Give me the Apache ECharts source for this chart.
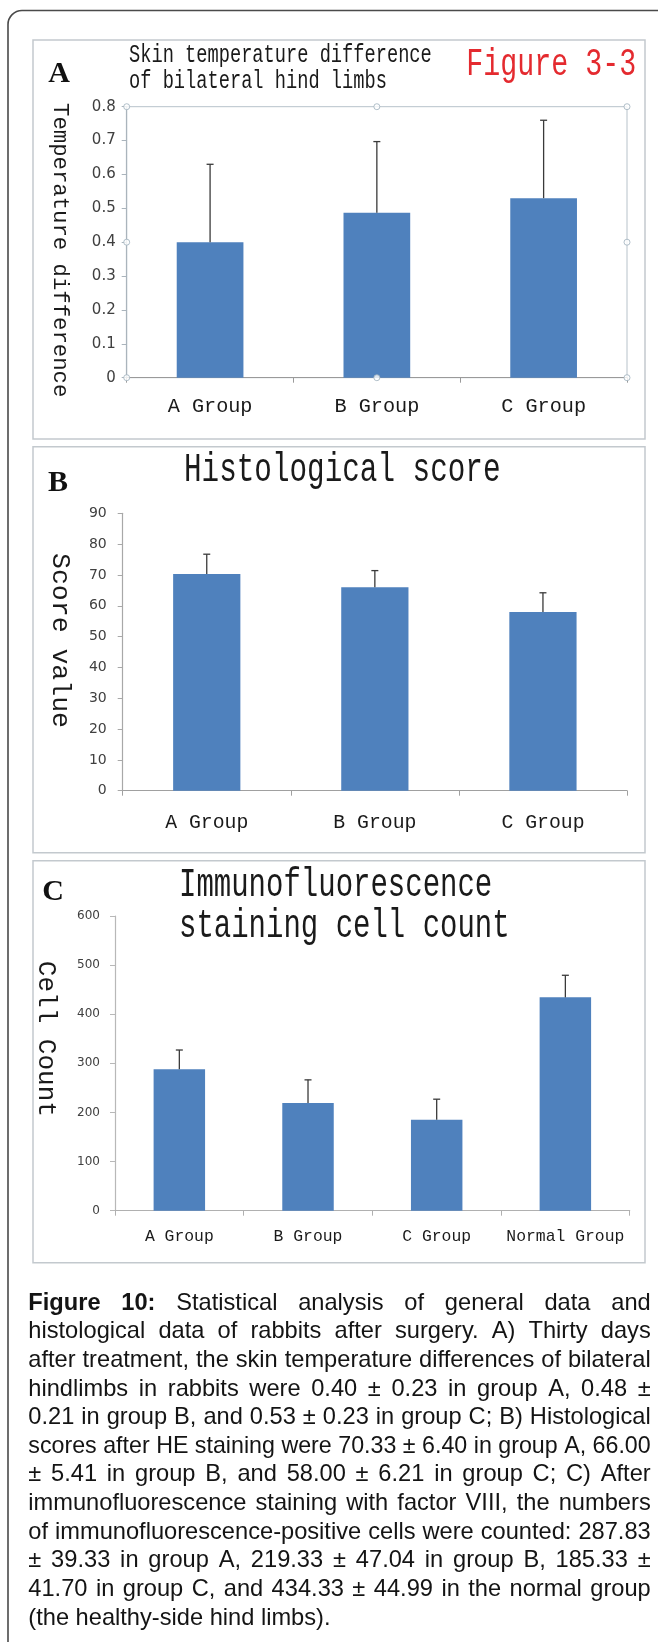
<!DOCTYPE html>
<html><head><meta charset="utf-8">
<script src="https://cdn.jsdelivr.net/npm/echarts@6/dist/echarts.min.js"></script>
<style>html,body{margin:0;padding:0;background:#fff}#c{width:658px;height:1642px}</style>
</head><body><div id="c"></div>
<script>
// ---------- data ----------
const groupsABC = ['A Group', 'B Group', 'C Group'];
const groupsCell = ['A Group', 'B Group', 'C Group', 'Normal Group'];
const tempMean = [0.40, 0.487, 0.53];
const tempSD = [0.23, 0.21, 0.23];
const scoreMean = [70.33, 66.00, 58.00];
const scoreSD = [6.40, 5.41, 6.21];
const cellMean = [287.83, 219.33, 185.33, 434.33];
const cellSD = [39.33, 47.04, 41.70, 44.99];
const tempTicks = [0, 0.1, 0.2, 0.3, 0.4, 0.5, 0.6, 0.7, 0.8];
const scoreTicks = [0, 10, 20, 30, 40, 50, 60, 70, 80, 90];
const cellTicks = [0, 100, 200, 300, 400, 500, 600];
const titleA = ['Skin temperature difference', 'of bilateral hind limbs'];
const titleB = ['Histological score'];
const titleC = ['Immunofluorescence', 'staining cell count'];
const figTag = 'Figure 3-3';
const yNameA = 'Temperature difference';
const yNameB = 'Score value';
const yNameC = 'Cell Count';
const panelLetters = ['A', 'B', 'C'];
const captionLines = [
  'Figure 10: Statistical analysis of general data and',
  'histological data of rabbits after surgery. A) Thirty days',
  'after treatment, the skin temperature differences of bilateral',
  'hindlimbs in rabbits were 0.40 ± 0.23 in group A, 0.48 ±',
  '0.21 in group B, and 0.53 ± 0.23 in group C; B) Histological',
  'scores after HE staining were 70.33 ± 6.40 in group A, 66.00',
  '± 5.41 in group B, and 58.00 ± 6.21 in group C; C) After',
  'immunofluorescence staining with factor VIII, the numbers',
  'of immunofluorescence-positive cells were counted: 287.83',
  '± 39.33 in group A, 219.33 ± 47.04 in group B, 185.33 ±',
  '41.70 in group C, and 434.33 ± 44.99 in the normal group',
  '(the healthy-side hind limbs).'
];
const captionBoldWords = 2; // "Figure 10:"

// ---------- styles / layout ----------
const MONO = '"Liberation Mono", "DejaVu Sans Mono", monospace';
const SANS = '"DejaVu Sans", sans-serif';
const CAPFONT = '"Liberation Sans", Arial, sans-serif';
const BLUE = '#4f81bd';

function rangeOf(t) { return { min: t[0], max: t[t.length - 1], interval: +(t[1] - t[0]).toFixed(6) }; }

function errRender(capHalf) {
  return function (params, api) {
    const i = api.value(0), m = api.value(1), e = api.value(2);
    const b = api.coord([i, m]), t = api.coord([i, m + e]);
    const st = { stroke: '#3a3a3a', lineWidth: 1.3, fill: null };
    return { type: 'group', children: [
      { type: 'line', shape: { x1: b[0], y1: b[1], x2: t[0], y2: t[1] }, style: st },
      { type: 'line', shape: { x1: t[0] - capHalf, y1: t[1], x2: t[0] + capHalf, y2: t[1] }, style: st }
    ] };
  };
}

function catAxis(grid, data, lineColor, fs, margin) {
  return {
    type: 'category', gridIndex: grid, data: data,
    axisLine: { show: true, lineStyle: { color: lineColor, width: 1.2 } },
    axisTick: { show: true, length: 5, inside: false, lineStyle: { color: lineColor } },
    axisLabel: { interval: 0, margin: margin, fontFamily: MONO, fontSize: fs, color: '#1a1a1a' },
    splitLine: { show: false }
  };
}
function valAxis(grid, ticks, lineColor, fs, margin, name, nameFs, nameGap, pad) {
  const r = rangeOf(ticks);
  return {
    type: 'value', gridIndex: grid, min: r.min, max: r.max, interval: r.interval,
    axisLine: { show: true, lineStyle: { color: lineColor, width: 1.2 } },
    axisTick: { show: true, length: 5, lineStyle: { color: lineColor } },
    axisLabel: { margin: margin, fontFamily: SANS, fontSize: fs, color: '#404040' },
    splitLine: { show: false },
    name: name, nameLocation: 'middle', nameRotate: -90, nameGap: nameGap,
    nameMoveOverlap: false,
    nameTextStyle: { fontFamily: MONO, fontSize: nameFs, color: '#1a1a1a', padding: pad }
  };
}

// caption layout (justified)
const ctx = document.createElement('canvas').getContext('2d');
function measure(t, bold) { ctx.font = (bold ? 'bold ' : 'normal ') + '24px ' + CAPFONT; return ctx.measureText(t).width; }
const CAP_X = 28.3, CAP_W = 622.4, CAP_Y0 = 1303, CAP_DY = 28.64, CAP_S0 = 0.985;
const captionGraphics = captionLines.map(function (line, li) {
  const words = line.split(' ');
  const bold = words.map((w, wi) => li === 0 && wi < captionBoldWords);
  const ws = words.map((w, wi) => measure(w, bold[wi]));
  const sumW = ws.reduce((a, b) => a + b, 0);
  const sp = measure(' ', false);
  const natural = sumW + sp * (words.length - 1);
  const last = li === captionLines.length - 1;
  let s = CAP_S0, gap = sp;
  if (!last) {
    s = Math.min(CAP_S0, CAP_W / natural);
    gap = (CAP_W / s - sumW) / (words.length - 1);
  }
  let px = 0;
  const children = words.map(function (w, wi) {
    const el = { type: 'text', x: px, y: 0, style: { text: w, fontSize: 24, fontFamily: CAPFONT,
      fontWeight: bold[wi] ? 'bold' : 'normal', fill: '#141414', verticalAlign: 'middle', textVerticalAlign: 'middle' } };
    px += ws[wi] + gap;
    return el;
  });
  return { type: 'group', x: CAP_X, y: CAP_Y0 + CAP_DY * li, scaleX: s, children: children };
});

function titleText(text, x, y, fs, color) {
  return { type: 'text', x: x, y: y, scaleY: 1.38, style: { text: text, fontSize: fs, fontFamily: MONO, fill: color,
    verticalAlign: 'middle', textVerticalAlign: 'middle' } };
}
function letter(t, x, y) {
  return { type: 'text', x: x, y: y, style: { text: t, fontSize: 30, fontWeight: 'bold', fontFamily: '"Liberation Serif", serif',
    fill: '#111', align: 'center', textAlign: 'center', verticalAlign: 'middle', textVerticalAlign: 'middle' } };
}
function box(y, h) {
  return { type: 'rect', shape: { x: 33, y: y, width: 612, height: h }, style: { fill: 'none', stroke: '#c3c9ce', lineWidth: 1.5 } };
}

const rA = rangeOf(tempTicks);
const handles = [[0, rA.max], [0.5, rA.max], [1, rA.max], [0, rA.max / 2], [1, rA.max / 2], [0, rA.min], [0.5, rA.min], [1, rA.min]];

const option = {
  backgroundColor: '#fff',
  animation: false,
  grid: [
    { left: 126.7, top: 106.7, width: 500.3, height: 271, show: true, borderColor: '#b7c2ca', borderWidth: 1, backgroundColor: 'transparent', containLabel: false, outerBoundsMode: 'none' },
    { left: 122.7, top: 513.3, width: 504.3, height: 277.4, containLabel: false, outerBoundsMode: 'none' },
    { left: 115, top: 916, width: 514.7, height: 294.7, containLabel: false, outerBoundsMode: 'none' }
  ],
  xAxis: [
    catAxis(0, groupsABC, '#9a9a9a', 20.2, 19),
    catAxis(1, groupsABC, '#a0a0a0', 19.8, 22.5),
    catAxis(2, groupsCell, '#b0b0b0', 16.4, 18),
    { type: 'value', gridIndex: 0, min: 0, max: 1, show: false }
  ],
  yAxis: [
    valAxis(0, tempTicks, '#aab4bc', 15, 11, yNameA, 22.3, 56, [0, 0, 0, 16]),
    valAxis(1, scoreTicks, '#a8a8a8', 14, 16, yNameB, 26.5, 49.5, [0, 23, 0, 0]),
    valAxis(2, cellTicks, '#b8b8b8', 12, 15, yNameC, 26, 56, [0, 49, 0, 0])
  ],
  series: [
    { type: 'bar', xAxisIndex: 0, yAxisIndex: 0, data: tempMean, barWidth: '40%', itemStyle: { color: BLUE } },
    { type: 'bar', xAxisIndex: 1, yAxisIndex: 1, data: scoreMean, barWidth: '40%', itemStyle: { color: BLUE } },
    { type: 'bar', xAxisIndex: 2, yAxisIndex: 2, data: cellMean, barWidth: '40%', itemStyle: { color: BLUE } },
    { type: 'custom', xAxisIndex: 0, yAxisIndex: 0, renderItem: errRender(3.5), encode: { x: 0, y: 1 }, z: 5,
      data: tempMean.map((m, i) => [i, m, tempSD[i]]) },
    { type: 'custom', xAxisIndex: 1, yAxisIndex: 1, renderItem: errRender(3.5), encode: { x: 0, y: 1 }, z: 5,
      data: scoreMean.map((m, i) => [i, m, scoreSD[i]]) },
    { type: 'custom', xAxisIndex: 2, yAxisIndex: 2, renderItem: errRender(3.5), encode: { x: 0, y: 1 }, z: 5,
      data: cellMean.map((m, i) => [i, m, cellSD[i]]) },
    { type: 'scatter', xAxisIndex: 3, yAxisIndex: 0, data: handles, symbol: 'circle', symbolSize: 6, clip: false, z: 6,
      itemStyle: { color: '#fff', borderColor: '#9fb0bd', borderWidth: 1 }, silent: true }
  ],
  graphic: [
    { type: 'rect', shape: { x: 8, y: 10.5, width: 720, height: 1700, r: 14 }, style: { fill: 'none', stroke: '#4a4a4a', lineWidth: 1.6 } },
    box(40, 399), box(446.7, 406), box(860.7, 402),
    letter(panelLetters[0], 59, 74), letter(panelLetters[1], 58, 483), letter(panelLetters[2], 53, 892),
    titleText(titleA[0], 129, 55.5, 18.7, '#1a1a1a'),
    titleText(titleA[1], 129, 81.5, 18.7, '#1a1a1a'),
    titleText(figTag, 466.3, 65, 28.3, '#e42a2f'),
    titleText(titleB[0], 184, 470, 29.3, '#1a1a1a'),
    titleText(titleC[0], 179, 885, 29, '#1a1a1a'),
    titleText(titleC[1], 179, 926, 29, '#1a1a1a')
  ].concat(captionGraphics)
};

const chart = echarts.init(document.getElementById('c'), null, { renderer: 'canvas', width: 658, height: 1642 });
chart.setOption(option);
</script>
</body></html>
